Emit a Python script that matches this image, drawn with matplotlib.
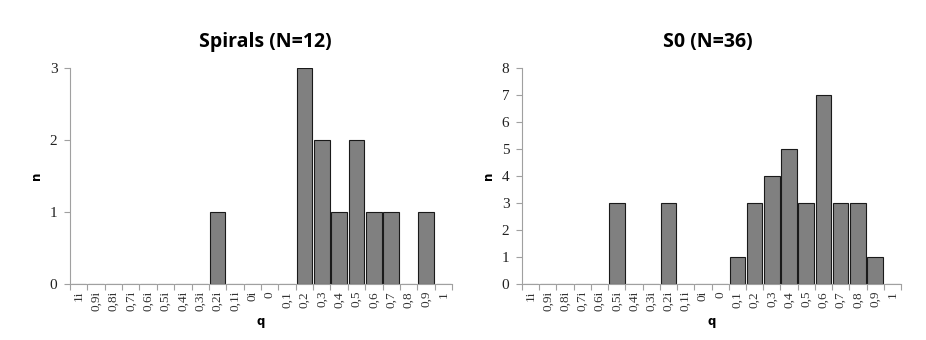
import matplotlib.pyplot as plt
import numpy as np

cats = ["1i", "0,9i", "0,8i", "0,7i", "0,6i", "0,5i", "0,4i", "0,3i", "0,2i", "0,1i", "0i",
        "0", "0,1", "0,2", "0,3", "0,4", "0,5", "0,6", "0,7", "0,8", "0,9", "1"]
spirals = [0, 0, 0, 0, 0, 0, 0, 0, 1, 0, 0, 0, 0, 3, 2, 1, 2, 1, 1, 0, 1, 0]
s0 = [0, 0, 0, 0, 0, 3, 0, 0, 3, 0, 0, 0, 1, 3, 4, 5, 3, 7, 3, 3, 1, 0]

fig = plt.figure(figsize=(9.26, 3.4), dpi=100)
ax1 = fig.add_axes([70 / 926, 1 - 284 / 340, 382 / 926, 216 / 340])
ax2 = fig.add_axes([522 / 926, 1 - 284 / 340, 379 / 926, 216 / 340])

serif = "Liberation Serif"
for ax, vals, title, ymax, tx in [(ax1, spirals, "Spirals (N=12)", 3, 265),
                                  (ax2, s0, "S0 (N=36)", 8, 708)]:
    x = np.arange(len(cats))
    ax.bar(x, vals, width=0.9, color="#808080", edgecolor="#1a1a1a", linewidth=0.8)
    ax.set_xlim(-0.5, len(cats) - 0.5)
    ax.set_ylim(0, ymax)
    ax.set_yticks(range(ymax + 1))
    ax.set_xticks(x)
    ax.set_xticklabels(cats, rotation=90, fontsize=9.5, family=serif, color="#333333")
    ax.set_xticks(np.arange(len(cats) + 1) - 0.5, minor=True)
    ax.tick_params(axis="x", which="major", length=0, pad=5)
    ax.tick_params(axis="x", which="minor", length=4, color="#a0a0a0", width=0.8)
    ax.tick_params(axis="y", length=4, color="#a0a0a0", width=0.8, pad=5)
    for lab in ax.get_yticklabels():
        lab.set_family(serif)
        lab.set_fontsize(11)
        lab.set_color("#222222")
    for s in ["top", "right"]:
        ax.spines[s].set_visible(False)
    for s in ["left", "bottom"]:
        ax.spines[s].set_color("#a0a0a0")
        ax.spines[s].set_linewidth(0.8)
    ax.set_xlabel("q", fontsize=8.5, fontweight="bold", labelpad=3)
    ax.set_ylabel("n", fontsize=8.5, fontweight="bold", rotation=90, labelpad=5)
    fig.text(tx / 926, 1 - 42 / 340, title, ha="center", va="center",
             fontsize=14, fontweight="bold", family="Open Sans")

fig.savefig("out.png", dpi=100)
